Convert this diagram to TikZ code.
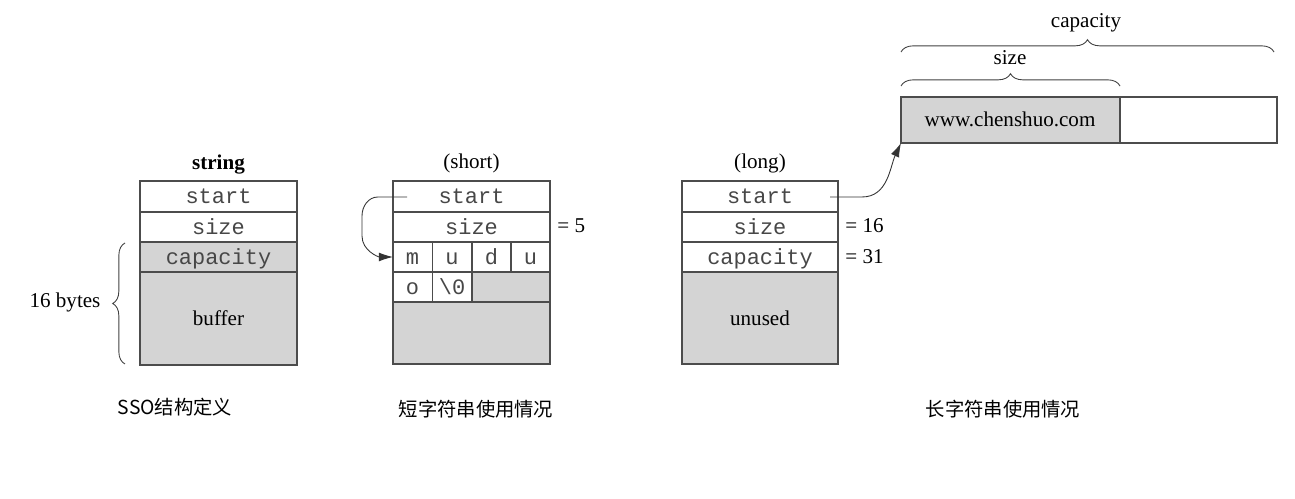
\documentclass[tikz,border=0pt]{standalone}
\usepackage{fontspec}
\setmainfont{Liberation Serif}
\setmonofont{Liberation Mono}
\newfontfamily\cjk{Noto Sans CJK SC}
\usetikzlibrary{positioning, calc, arrows.meta, decorations.pathreplacing}
\definecolor{cellgray}{gray}{0.83}
\definecolor{rulegray}{gray}{0.3}

\tikzset{
	field/.style={font=\fontsize{12.5}{14}\selectfont\ttfamily, text=black!72, inner sep=0pt, text height=1.6ex, text depth=0.3ex},
	note/.style={font=\fontsize{12}{14}\selectfont, inner sep=1pt},
	caption/.style={font=\fontsize{11}{13}\selectfont\cjk},
	boxline/.style={draw=rulegray, line width=0.6pt},
	curly/.style={decorate, decoration={brace, amplitude=7pt}, draw=black!75, line width=0.5pt},
	ptr/.style={draw=black!80, line width=0.5pt, -{Latex[length=8pt, width=5pt]}}
}

\begin{document}
\begin{tikzpicture}[x=0.02cm, y=-0.02cm]
\useasboundingbox (0,0) rectangle (1295,499);

% SSO layout
\fill[cellgray] (140,242) rectangle (297,365);
\draw[boxline] (140,181) rectangle (297,365);
\foreach \y in {212,242,272}
	\draw[boxline] (140,\y) -- (297,\y);

\node[note, font=\fontsize{12}{14}\selectfont\bfseries] (ssotitle) at (218.5,165) {string};
\node[field] (ssostart) at (218.5,198.5) {start};
\node[field] (ssosize) at (218.5,229) {size};
\node[field] (ssocap) at (218.5,259) {capacity};
\node[note] (ssobuf) at (218.5,318) {buffer};

\draw[curly] (125,364) -- (125,243);
\node[note] (bytes) at (65,302) {16 bytes};

% short string
\fill[cellgray] (472,272) rectangle (550,302);
\fill[cellgray] (393,302) rectangle (550,364);
\draw[boxline] (393,181) rectangle (550,364);
\foreach \y in {212,242,272,302}
	\draw[boxline] (393,\y) -- (550,\y);
\foreach \x in {432.5,472,511}
	\draw[boxline] (\x,242) -- (\x,272);
\foreach \x in {432.5,472}
	\draw[boxline] (\x,272) -- (\x,302);

\node[note] (shorttitle) at (471.5,163) {(short)};
\node[field] (shortstart) at (471.5,198.5) {start};
\node[field] (shortsize) at (471.5,229) {size};
\node[field] (cm) at (412.5,259) {m};
\node[field] (cu) at (452,259) {u};
\node[field] (cd) at (491.5,259) {d};
\node[field] (cuu) at (530.5,259) {u};
\node[field] (co) at (412.5,289) {o};
\node[field] (cnul) at (452,289) {\textbackslash 0};

\coordinate (shortedge) at (550,226);
\node[note, right=3pt of shortedge] (shortlen) {= 5};

\coordinate (shortfrom) at (407,197);
\coordinate (shortto) at (393,257);
\draw[ptr] (shortfrom) -- (378,197) to[out=180,in=90] (362,216) -- (362,236) to[out=-90,in=180] (shortto);

% long string
\fill[cellgray] (682,272) rectangle (838,364);
\draw[boxline] (682,181) rectangle (838,364);
\foreach \y in {212,242,272}
	\draw[boxline] (682,\y) -- (838,\y);

\node[note] (longtitle) at (760,163) {(long)};
\node[field] (longstart) at (760,198.5) {start};
\node[field] (longsize) at (760,229) {size};
\node[field] (longcap) at (760,259) {capacity};
\node[note] (longunused) at (760,318) {unused};

\coordinate (sizeedge) at (838,226);
\coordinate (capedge) at (838,257);
\node[note, right=3pt of sizeedge] (longlen) {= 16};
\node[note, right=3pt of capedge] (longroom) {= 31};

% heap buffer
\fill[cellgray] (901,97) rectangle (1120,143);
\draw[boxline] (901,97) rectangle (1277,143);
\draw[boxline] (1120,97) -- (1120,143);
\node[note] (heaptext) at (1010,119) {www.chenshuo.com};

\draw[curly] (901,86) -- (1120,86);
\node[note] (heapsize) at (1010,58) {size};
\draw[curly] (901,52) -- (1274,52);
\node[note] (heapcap) at (1086,23) {capacity};

\coordinate (longfrom) at (830,197);
\coordinate (heapcorner) at (901,143);
\draw[ptr] (longfrom) -- (862,197) to[out=0,in=245] (heapcorner);

% captions
\node[caption] (cap1) at (175,407) {SSO结构定义};
\node[caption] (cap2) at (476,409) {短字符串使用情况};
\node[caption] (cap3) at (1003,409) {长字符串使用情况};

\end{tikzpicture}
\end{document}
